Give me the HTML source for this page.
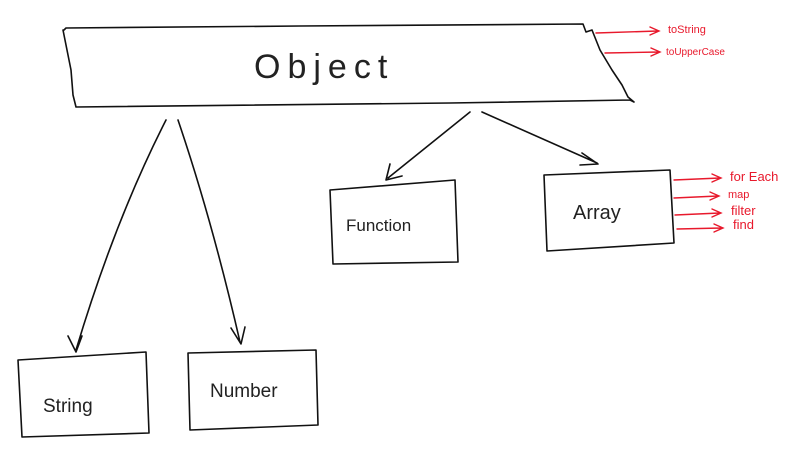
<!DOCTYPE html>
<html><head><style>
html,body{margin:0;padding:0;background:#fff;width:804px;height:459px;overflow:hidden}
svg text{font-family:"Liberation Sans",sans-serif}
</style></head><body>
<svg width="804" height="459" viewBox="0 0 804 459" xmlns="http://www.w3.org/2000/svg">
<g fill="none" stroke="#111" stroke-width="1.6" stroke-linecap="round" stroke-linejoin="round">
<path d="M64 30 L66 28 L300 26 L583 24 L586 32 L592 30 L600 50 L612 70 L622 85 L628 97 L634 102 L630 100 L450 103 L76 107 L73 95 L71 70 L66 45 L63 30 Z"/>
<path d="M330 190 L455 180 L458 262 L333 264 Z"/>
<path d="M544 175 L670 170 L674 243 L547 251 Z"/>
<path d="M18 360 L146 352 L149 433 L22 437 Z"/>
<path d="M188 353 L316 350 L318 425 L190 430 Z"/>
<path d="M166 120 Q115 220 76 350 M68 336 L76 352 L82 336"/>
<path d="M178 120 Q212 220 240 342 M231 328 L241 344 L245 327"/>
<path d="M470 112 L388 178 M390 164 L386 180 L402 176"/>
<path d="M482 112 L597 163 M582 153 L598 164 L580 165"/>
</g>
<text x="254" y="78" font-size="34" letter-spacing="7" fill="#222">Object</text>
<g font-size="17" fill="#222">
<text x="346" y="231">Function</text>
<text x="573" y="219" font-size="20">Array</text>
<text x="43" y="412" font-size="19">String</text>
<text x="210" y="397" font-size="19">Number</text>
</g>
<g fill="none" stroke="#e8192c" stroke-width="1.4" stroke-linecap="round">
<path d="M596 33 L658 31 M650 27 L659 31 L650 35"/>
<path d="M605 53 L659 52 M651 48 L660 52 L651 56"/>
<path d="M674 180 L720 178 M712 174 L721 178 L712 182"/>
<path d="M674 198 L718 196 M710 192 L719 196 L710 200"/>
<path d="M675 215 L720 213 M712 209 L721 213 L712 217"/>
<path d="M677 229 L722 228 M714 224 L723 228 L714 232"/>
</g>
<g fill="#e8192c" font-size="11">
<text x="668" y="33">toString</text>
<text x="666" y="55" font-size="10">toUpperCase</text>
<text x="730" y="181" font-size="13">for Each</text>
<text x="728" y="198">map</text>
<text x="731" y="215" font-size="13">filter</text>
<text x="733" y="229" font-size="13">find</text>
</g>
</svg>
</body></html>
